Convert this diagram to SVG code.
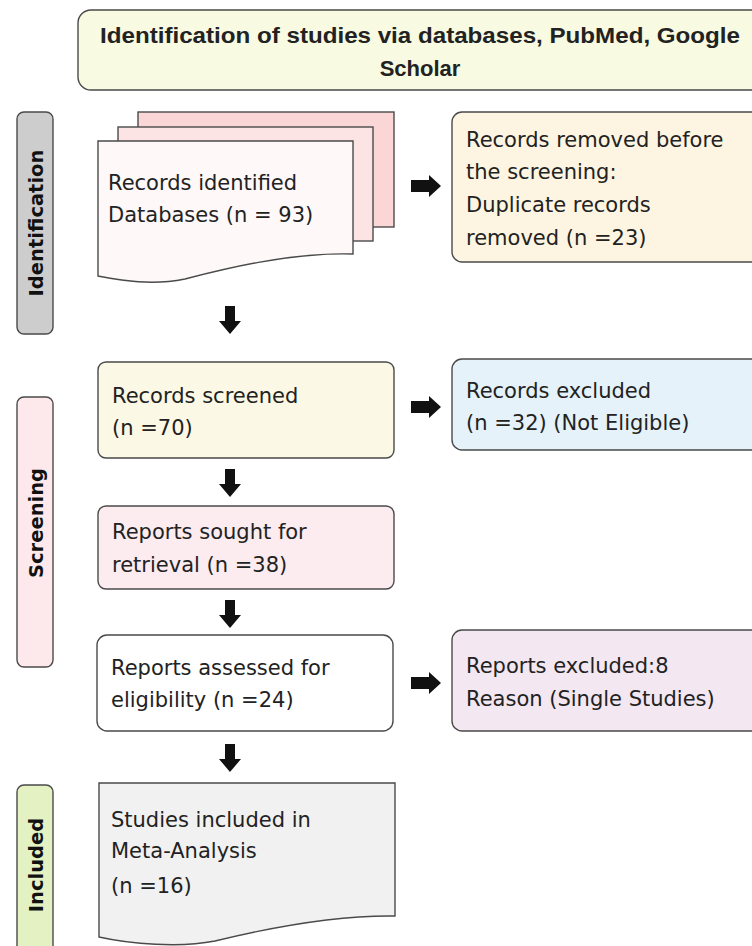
<svg xmlns="http://www.w3.org/2000/svg" width="752" height="946" viewBox="0 0 752 946">
<defs>
<style>
.box{stroke:#4a4a4a;stroke-width:1.4}
.t{font-family:"DejaVu Sans","Liberation Sans",sans-serif;font-size:21px;fill:#222}
.tb{font-family:"Liberation Sans",Arial,sans-serif;font-size:22px;font-weight:bold;fill:#222}
.lab{font-family:"DejaVu Sans",Verdana,sans-serif;font-size:19.5px;font-weight:bold;fill:#111}
.arr{fill:#111}
</style>
<path id="ar" d="M-15,-6 H3 V-11 L15,0 L3,11 V6 H-15 Z"/>
<path id="ad" d="M-5,-14 H5 V1 H11 L0,14 L-11,1 H-5 Z"/>
</defs>
<rect width="752" height="946" fill="#ffffff"/>

<g id="title">
<rect class="box" x="78" y="10" width="700" height="80" rx="13" fill="#f8fae2"/>
<text class="tb" x="420" y="43" text-anchor="middle" textLength="640" lengthAdjust="spacingAndGlyphs">Identification of studies via databases, PubMed, Google</text>
<text class="tb" x="420" y="76" text-anchor="middle">Scholar</text>
</g>

<g id="label-identification">
<rect class="box" x="17" y="112" width="36" height="222" rx="7" fill="#cdcdcd"/>
<text class="lab" transform="translate(43,223) rotate(-90)" text-anchor="middle">Identification</text>
</g>
<g id="label-screening">
<rect class="box" x="17" y="397" width="36" height="270" rx="7" fill="#fde9ec"/>
<text class="lab" transform="translate(43,523) rotate(-90)" text-anchor="middle">Screening</text>
</g>
<g id="label-included">
<rect class="box" x="17" y="785" width="36" height="180" rx="7" fill="#e3f1c3"/>
<text class="lab" transform="translate(43,865) rotate(-90)" text-anchor="middle">Included</text>
</g>

<g id="records-identified">
<rect class="box" x="138" y="112" width="256" height="115" fill="#fbd6d6"/>
<rect class="box" x="118" y="127" width="255" height="114" fill="#fce4e4"/>
<path class="box" d="M98,141 H353 V254 C290,252 220,270 185,279 C150,286 120,280 98,276 Z" fill="#fef8f8"/>
<text class="t" x="108" y="190">Records identified</text>
<text class="t" x="108" y="222">Databases (n = 93)</text>
</g>

<g id="records-removed">
<rect class="box" x="452" y="112" width="320" height="150" rx="10" fill="#fdf5e1"/>
<text class="t" x="466" y="147">Records removed before</text>
<text class="t" x="466" y="179">the screening:</text>
<text class="t" x="466" y="212">Duplicate records</text>
<text class="t" x="466" y="245">removed (n =23)</text>
</g>

<g id="records-screened">
<rect class="box" x="98" y="362" width="296" height="96" rx="8" fill="#fbf9e6"/>
<text class="t" x="112" y="403">Records screened</text>
<text class="t" x="112" y="435">(n =70)</text>
</g>

<g id="records-excluded">
<rect class="box" x="452" y="359" width="320" height="91" rx="10" fill="#e5f2f9"/>
<text class="t" x="466" y="398">Records excluded</text>
<text class="t" x="466" y="430">(n =32) (Not Eligible)</text>
</g>

<g id="reports-sought">
<rect class="box" x="98" y="506" width="296" height="83" rx="8" fill="#fcecf0"/>
<text class="t" x="112" y="539">Reports sought for</text>
<text class="t" x="112" y="572">retrieval (n =38)</text>
</g>

<g id="reports-assessed">
<rect class="box" x="97" y="635" width="296" height="96" rx="10" fill="#ffffff"/>
<text class="t" x="111" y="675">Reports assessed for</text>
<text class="t" x="111" y="707">eligibility (n =24)</text>
</g>

<g id="reports-excluded">
<rect class="box" x="452" y="630" width="320" height="101" rx="10" fill="#f3e7f2"/>
<text class="t" x="466" y="673">Reports excluded:8</text>
<text class="t" x="466" y="706">Reason (Single Studies)</text>
</g>

<g id="studies-included">
<path class="box" d="M99,783 H395 V916 C330,915 260,930 215,941 C180,948 130,944 99,937 Z" fill="#f1f1f1"/>
<text class="t" x="111" y="827">Studies included in</text>
<text class="t" x="111" y="858">Meta-Analysis</text>
<text class="t" x="111" y="893">(n =16)</text>
</g>

<g id="connectors" class="arr">
<use href="#ar" x="426" y="186"/>
<use href="#ar" x="426" y="407"/>
<use href="#ar" x="426" y="683"/>
<use href="#ad" x="230" y="320"/>
<use href="#ad" x="230" y="483"/>
<use href="#ad" x="230" y="614"/>
<use href="#ad" x="230" y="758"/>
</g>
</svg>
